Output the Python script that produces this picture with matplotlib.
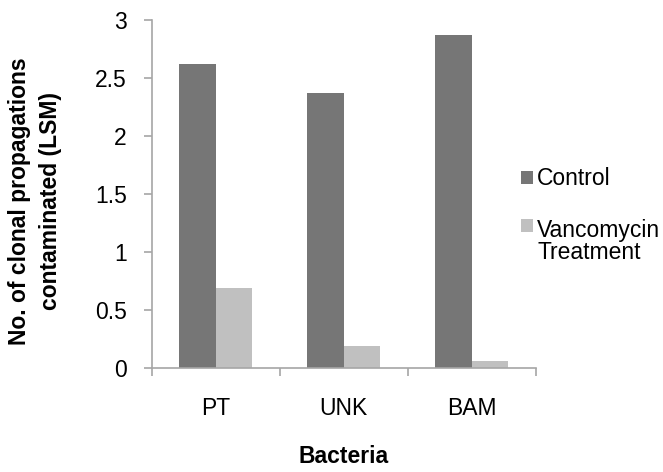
import numpy as np
import matplotlib
matplotlib.use('Agg')
import matplotlib.pyplot as plt

plt.rcParams['font.family'] = ['Liberation Sans', 'DejaVu Sans']

# ---------------------------------------------------------------------------
# Data
# ---------------------------------------------------------------------------
bacteria = ['PT', 'UNK', 'BAM']
control = [2.625, 2.375, 2.875]
vancomycin = [0.69, 0.19, 0.06]
series_labels = ['Control', 'Vancomycin\nTreatment']
y_ticks = [0, 0.5, 1, 1.5, 2, 2.5, 3]

CONTROL_COLOR = '#767676'
VANCO_COLOR = '#c0c0c0'
AXIS_COLOR = '#a6a6a6'
FS = 16.5

fig = plt.figure(figsize=(6.63, 4.72), dpi=100)
ax = fig.add_axes([0.229, 0.2203, 0.579, 0.7373])

x = np.arange(len(bacteria))
width = 0.285
ax.bar(x - width / 2, control, width, color=CONTROL_COLOR, label=series_labels[0])
ax.bar(x + width / 2, vancomycin, width, color=VANCO_COLOR, label=series_labels[1])

ax.set_xlim(-0.5, len(bacteria) - 0.5)
ax.set_ylim(0, 3)

# category boundary ticks, labels at centres
ax.set_xticks(np.arange(len(bacteria) + 1) - 0.5)
ax.set_xticklabels([])
ax.set_xticks(x, minor=True)
ax.set_xticklabels(bacteria, minor=True, fontsize=FS)
ax.tick_params(axis='x', which='major', length=6, color=AXIS_COLOR, width=1.2)
ax.tick_params(axis='x', which='minor', length=0, pad=21)

ax.set_yticks(y_ticks)
ax.set_yticklabels([f'{v:g}' for v in y_ticks], fontsize=FS)
ax.tick_params(axis='y', length=6, color=AXIS_COLOR, width=1.2, pad=12)

for side in ['top', 'right']:
    ax.spines[side].set_visible(False)
for side in ['left', 'bottom']:
    ax.spines[side].set_color(AXIS_COLOR)
    ax.spines[side].set_linewidth(1.2)

ax.set_ylabel('No. of clonal propagations\ncontaminated (LSM)', fontsize=FS,
              fontweight='bold', linespacing=1.45)
ax.yaxis.set_label_coords(-0.234, 0.48)
ax.set_xlabel('Bacteria', fontsize=FS, fontweight='bold', labelpad=18)

leg = ax.legend(loc='center left', bbox_to_anchor=(0.962, 0.438), frameon=False,
                fontsize=FS, handlelength=0.5, handleheight=0.5, handletextpad=0.2,
                labelspacing=1.25, borderaxespad=0, borderpad=0)
leg.get_texts()[1].set_linespacing(0.95)
# square of the two-line entry sits beside its first line
p = leg.get_patches()[1]
p.set_y(p.get_y() + 12)

fig.savefig('out.png', dpi=100)
